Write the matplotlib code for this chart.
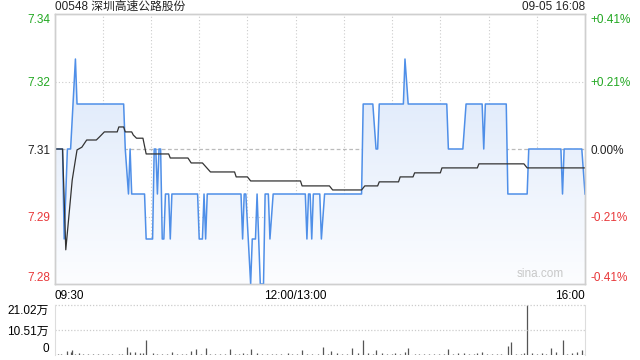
"""Intraday chart for 00548 (price, average price and volume)."""

import matplotlib

matplotlib.use("Agg")
import matplotlib.pyplot as plt
import numpy as np
from matplotlib.colors import to_rgb

plt.rcParams["font.family"] = ["Liberation Sans", "Noto Sans CJK SC", "DejaVu Sans"]

# minutes since 09:30 (12:00 and 13:00 share minute 150), price in HKD
price_minutes = [0, 5, 6, 8, 10, 13, 14, 43, 44, 46, 47, 48, 56, 57, 61, 62, 63, 64,
                 65, 66, 67, 68, 69, 71, 72, 73, 89, 90, 92, 93, 94, 95, 116, 117,
                 118, 119, 122, 123, 125, 126, 128, 130, 131, 133, 134, 136, 156, 157,
                 158, 159, 160, 161, 165, 166, 168, 191, 192, 198, 200, 201, 202, 217,
                 218, 220, 244, 245, 254, 256, 266, 267, 268, 281, 282, 294, 295, 315,
                 316, 317, 328, 330]
price_values = [7.31, 7.31, 7.29, 7.31, 7.31, 7.33, 7.32, 7.32, 7.31, 7.30, 7.31, 7.30,
                7.30, 7.29, 7.29, 7.31, 7.31, 7.30, 7.31, 7.31, 7.29, 7.29, 7.30, 7.30,
                7.29, 7.30, 7.30, 7.29, 7.29, 7.30, 7.29, 7.30, 7.30, 7.29, 7.30, 7.30,
                7.28, 7.29, 7.29, 7.30, 7.28, 7.28, 7.30, 7.30, 7.29, 7.30, 7.30, 7.29,
                7.30, 7.30, 7.29, 7.30, 7.30, 7.29, 7.30, 7.30, 7.32, 7.32, 7.31, 7.31,
                7.32, 7.32, 7.33, 7.32, 7.32, 7.31, 7.31, 7.32, 7.32, 7.31, 7.32, 7.32,
                7.30, 7.30, 7.31, 7.31, 7.30, 7.31, 7.31, 7.30]

avg_minutes = [0, 5, 7, 11, 13, 14, 17, 20, 26, 28, 31, 39, 40, 43, 44, 48, 49, 51, 55,
               57, 71, 72, 83, 85, 92, 97, 112, 113, 120, 122, 153, 154, 171, 173, 191,
               193, 201, 202, 214, 215, 223, 224, 240, 241, 263, 264, 292, 294, 330]
avg_values = [7.31, 7.31, 7.2876, 7.3031, 7.3076, 7.3098, 7.3104, 7.312, 7.312, 7.3127,
              7.3138, 7.3138, 7.3149, 7.3149, 7.3138, 7.3138, 7.3131, 7.3124, 7.3124,
              7.3089, 7.3089, 7.308, 7.308, 7.3069, 7.3069, 7.3049, 7.3049, 7.3038,
              7.3038, 7.3029, 7.3029, 7.3018, 7.3018, 7.3009, 7.3009, 7.3018, 7.3018,
              7.3027, 7.3027, 7.3038, 7.3038, 7.3047, 7.3047, 7.3058, 7.3058, 7.3067,
              7.3067, 7.3058, 7.3058]

# volume in 万 shares
vol_minutes = [2, 4, 8, 10, 11, 13, 15, 18, 21, 24, 27, 30, 33, 36, 40, 42, 45, 47, 50,
               53, 55, 57, 61, 64, 67, 70, 73, 76, 79, 82, 85, 88, 91, 94, 97, 100, 103,
               106, 109, 112, 115, 117, 120, 122, 126, 129, 132, 135, 138, 141, 145, 148,
               151, 154, 157, 160, 164, 167, 170, 172, 176, 179, 182, 185, 189, 192, 195,
               198, 200, 204, 207, 210, 212, 215, 218, 220, 224, 227, 230, 233, 236, 239,
               242, 245, 248, 251, 255, 258, 261, 263, 266, 269, 272, 275, 278, 282, 284,
               287, 290, 292, 294, 297, 300, 303, 306, 309, 312, 316, 319, 322, 325, 328,
               330]
vol_values = [0.5, 0.4, 1.7, 1.1, 2.1, 0.5, 0.7, 0.4, 0.5, 0.4, 0.5, 0.4, 0.5, 0.4, 0.5,
              0.4, 3.5, 1.1, 1.1, 1.0, 1.0, 6.3, 0.7, 0.5, 0.4, 0.5, 1.1, 0.4, 0.5, 0.4,
              1.8, 2.5, 0.5, 2.9, 0.4, 0.5, 0.4, 0.5, 2.5, 0.4, 0.5, 0.7, 0.4, 2.5, 0.7,
              0.4, 0.5, 0.4, 0.5, 0.4, 0.7, 0.4, 0.5, 2.1, 0.4, 0.5, 0.4, 3.4, 0.5, 1.7,
              0.8, 0.5, 0.4, 2.9, 0.8, 6.3, 0.9, 0.5, 2.1, 0.9, 0.5, 0.4, 0.9, 0.5, 1.1,
              2.9, 0.5, 0.4, 0.5, 0.4, 0.5, 0.4, 0.5, 2.5, 0.4, 0.9, 0.9, 0.4, 0.5, 0.9,
              1.1, 0.4, 0.5, 0.4, 0.5, 3.8, 5.5, 0.4, 0.5, 0.9, 21.02, 0.9, 0.5, 0.9, 0.5,
              2.9, 1.1, 6.3, 0.5, 0.9, 1.1, 2.1, 0.6]

prev_close = 7.31
price_ticks = [7.28, 7.295, 7.31, 7.325, 7.34]
price_labels = ["7.28", "7.29", "7.31", "7.32", "7.34"]
pct_labels = ["-0.41%", "-0.21%", "0.00%", "+0.21%", "+0.41%"]
vol_ticks = [0, 10.51, 21.02]
vol_labels = ["0", "10.51万", "21.02万"]
time_ticks = [0, 150, 330]
time_labels = ["09:30", "12:00/13:00", "16:00"]

GREEN = "#22a822"
RED = "#e8383a"
DARK = "#222222"
LINE = "#4f8fe8"
FRAME = "#cfcfcf"
GRID = "#cccccc"
label_colors = [RED, RED, DARK, GREEN, GREEN]

fig = plt.figure(figsize=(6.4, 3.6), dpi=100)
ax = fig.add_axes([0.0852, 0.2111, 0.8289, 0.75])
vax = fig.add_axes([0.0852, 0.0139, 0.8289, 0.1389])

ymin, ymax = 7.28, 7.34
ax.set_xlim(0, 330)
ax.set_ylim(ymin, ymax)

# gradient fill under the price line
fill = ax.fill_between(price_minutes, price_values, ymin, color="none", linewidth=0)
top_c = np.array(to_rgb("#d6e4f9"))
bot_c = np.array(to_rgb("#fcfdff"))
t = np.linspace(0, 1, 256)[:, None]
grad = (top_c * (1 - t) + bot_c * t)[:, None, :]
img = ax.imshow(grad, extent=[0, 330, ymin, ymax], aspect="auto", origin="upper",
                zorder=1)
img.set_clip_path(fill.get_paths()[0], transform=ax.transData)

for x in range(30, 330, 30):
    ax.axvline(x, color=GRID, linewidth=0.8, linestyle=(0, (1, 2)), zorder=0.5)
for y in (7.295, 7.325):
    ax.axhline(y, color=GRID, linewidth=0.8, linestyle=(0, (1, 2)), zorder=0.5)
ax.axhline(prev_close, color="#bbbbbb", linewidth=0.9, linestyle=(0, (3, 2)), zorder=0.5)

ax.plot(price_minutes, price_values, color=LINE, linewidth=1.1, zorder=3)
ax.plot(avg_minutes, avg_values, color="#333333", linewidth=0.9, zorder=4)

ax.set_yticks(price_ticks)
ax.set_yticklabels(price_labels)
ax.set_xticks(time_ticks)
ax.set_xticklabels(time_labels)
ax.tick_params(length=0, labelsize=8.5, pad=3)
ax.tick_params(axis="x", pad=4)
for lab, c in zip(ax.get_yticklabels(), label_colors):
    lab.set_color(c)
ylabs = ax.get_yticklabels()
ylabs[0].set_va("bottom")
ylabs[-1].set_va("top")
xlabs = ax.get_xticklabels()
xlabs[0].set_ha("left")
xlabs[-1].set_ha("right")

rax = ax.twinx()
rax.set_ylim(ymin, ymax)
rax.set_yticks(price_ticks)
rax.set_yticklabels(pct_labels)
rax.tick_params(length=0, labelsize=8.5, pad=4)
for lab, c in zip(rax.get_yticklabels(), label_colors):
    lab.set_color(c)
rlabs = rax.get_yticklabels()
rlabs[0].set_va("bottom")
rlabs[-1].set_va("top")

for a in (ax, rax):
    for s in a.spines.values():
        s.set_color(FRAME)
        s.set_linewidth(1.0)

ax.text(0, 1.027, "00548 深圳高速公路股份", transform=ax.transAxes, fontsize=8.5,
        color=DARK, ha="left", va="center")
ax.text(1, 1.027, "09-05 16:08", transform=ax.transAxes, fontsize=8.5,
        color=DARK, ha="right", va="center")
ax.text(0.96, 0.015, "sina.com", transform=ax.transAxes, fontsize=8.5,
        color="#c8c8c8", ha="right", va="bottom")

# volume panel
vax.set_xlim(0, 330)
vax.set_ylim(0, 21.02)
vax.vlines(vol_minutes, 0, vol_values, color="#555555", linewidth=0.9)
for y in (10.51, 21.02):
    vax.axhline(y, color=GRID, linewidth=0.9, linestyle=(0, (1, 1.5)), clip_on=False)
vax.axhline(0, color=GRID, linewidth=0.9, linestyle=(0, (1, 1.5)), zorder=0)
vax.set_yticks(vol_ticks)
vax.set_yticklabels(vol_labels)
vax.set_xticks([])
vax.tick_params(length=0, labelsize=8.5, pad=4)
vlabs = vax.get_yticklabels()
vlabs[0].set_va("bottom")
vlabs[-1].set_va("top")
for side in ("top", "bottom"):
    vax.spines[side].set_visible(False)
for side in ("left", "right"):
    vax.spines[side].set_color("#dddddd")

fig.savefig("out.png", dpi=100)
